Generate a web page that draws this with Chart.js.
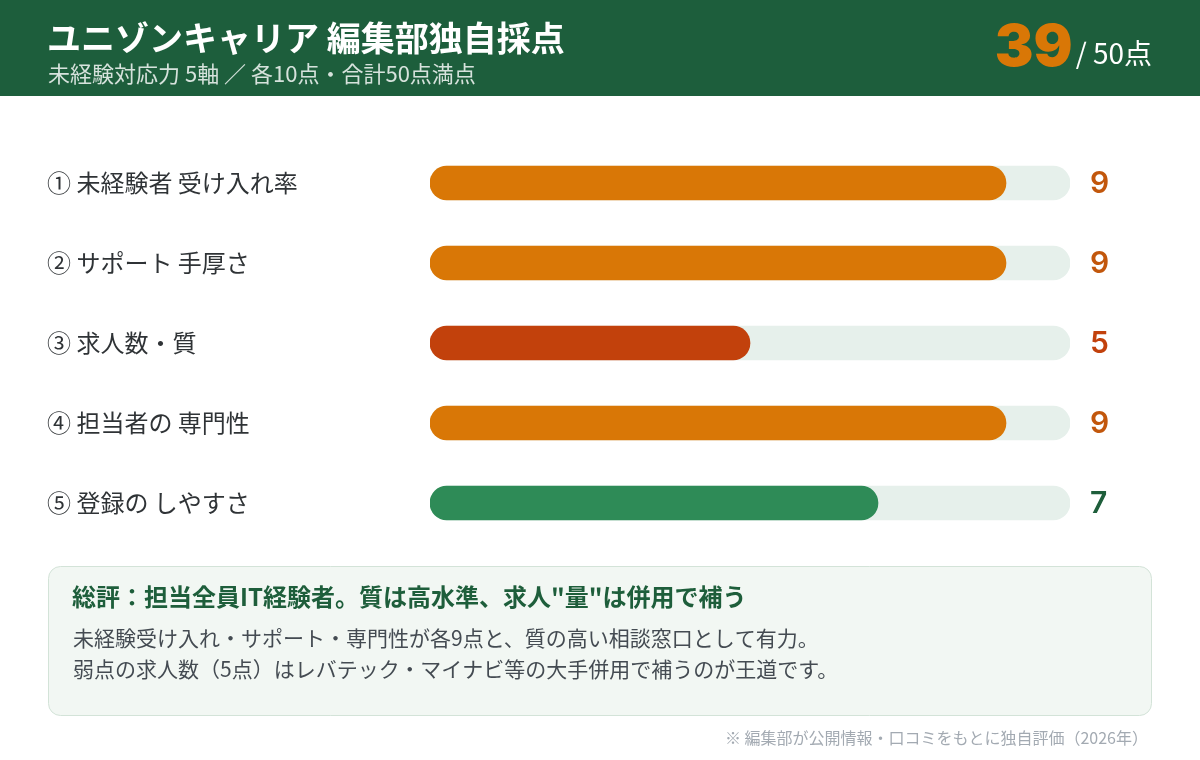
<!DOCTYPE html>
<html><head><meta charset="utf-8">
<script src="https://cdn.jsdelivr.net/npm/chart.js@4.4.1/dist/chart.umd.min.js"></script>
<style>html,body{margin:0;padding:0;background:#fff;}#wrap{width:1200px;height:760px;position:relative;}</style>
</head><body><div id="wrap"><canvas id="c" width="1200" height="760"></canvas></div>
<script>
const categories = ["① 未経験者 受け入れ率","② サポート 手厚さ","③ 求人数・質","④ 担当者の 専門性","⑤ 登録の しやすさ"];
const scores = [9, 9, 5, 9, 7];
const maxScores = [10, 10, 10, 10, 10];
const barColors = ["#d97706","#d97706","#c2410c","#d97706","#2e8b57"];
const valueColors = ["#c2570c","#c2570c","#c2410c","#c2570c","#1e5e3b"];
const title = "ユニゾンキャリア 編集部独自採点";
const subtitle = "未経験対応力 5軸 ／ 各10点・合計50点満点";
const total = "39";
const totalSuffix = "/ 50点";
const summaryTitle = "総評：担当全員IT経験者。質は高水準、求人\"量\"は併用で補う";
const summaryLines = ["未経験受け入れ・サポート・専門性が各9点と、質の高い相談窓口として有力。","弱点の求人数（5点）はレバテック・マイナビ等の大手併用で補うのが王道です。"];
const footnote = "※ 編集部が公開情報・口コミをもとに独自評価（2026年）";

const JP = '"Noto Sans CJK JP","Noto Sans",sans-serif';

function rr(ctx,x,y,w,h,r){ctx.beginPath();ctx.moveTo(x+r,y);ctx.lineTo(x+w-r,y);ctx.arcTo(x+w,y,x+w,y+r,r);ctx.lineTo(x+w,y+h-r);ctx.arcTo(x+w,y+h,x+w-r,y+h,r);ctx.lineTo(x+r,y+h);ctx.arcTo(x,y+h,x,y+h-r,r);ctx.lineTo(x,y+r);ctx.arcTo(x,y,x+r,y,r);ctx.closePath();}

const decor = {
  id:'decor',
  beforeDraw(chart){
    const ctx = chart.ctx;
    ctx.save();
    ctx.fillStyle = '#ffffff'; ctx.fillRect(0,0,1200,760);
    ctx.fillStyle = '#1d5e3c'; ctx.fillRect(0,0,1200,96);
    ctx.textBaseline = 'alphabetic'; ctx.textAlign = 'left';
    ctx.fillStyle = '#ffffff'; ctx.font = 'bold 34px '+JP;
    ctx.fillText(title, 47, 51);
    ctx.fillStyle = 'rgba(255,255,255,0.82)'; ctx.font = '22px '+JP;
    ctx.fillText(subtitle, 48, 82);
    ctx.textAlign = 'right';
    ctx.font = '28px '+JP; ctx.fillStyle = '#ffffff';
    const sw = ctx.measureText(totalSuffix).width;
    ctx.fillText(totalSuffix, 1152, 64);
    ctx.font = '900 58px Inter,"Noto Sans",sans-serif'; ctx.fillStyle = '#d97706';
    ctx.fillText(total, 1152 - sw - 3, 66);
    // summary box
    rr(ctx,48.5,566.5,1103,149,12);
    ctx.fillStyle = '#f2f7f3'; ctx.fill();
    ctx.strokeStyle = '#d3e3d8'; ctx.lineWidth = 1; ctx.stroke();
    ctx.textAlign = 'left'; ctx.textBaseline = 'middle';
    ctx.fillStyle = '#1e5e3b'; ctx.font = 'bold 24px '+JP;
    ctx.fillText(summaryTitle, 72, 597);
    ctx.fillStyle = '#444b52'; ctx.font = '21px '+JP;
    summaryLines.forEach((l,i)=>ctx.fillText(l, 73, 638 + i*31));
    ctx.textAlign = 'right'; ctx.fillStyle = '#a3aab2'; ctx.font = '16px '+JP;
    ctx.fillText(footnote, 1148, 738);
    ctx.restore();
  },
  afterDatasetsDraw(chart){
    const ctx = chart.ctx; const meta = chart.getDatasetMeta(0); const xs = chart.scales.x;
    ctx.save(); ctx.textAlign='left'; ctx.textBaseline='middle';
    ctx.font = '600 30px Inter,"Noto Sans",sans-serif';
    meta.data.forEach((bar,i)=>{
      ctx.fillStyle = valueColors[i];
      ctx.fillText(String(scores[i]), xs.getPixelForValue(10) + 20, bar.y + 1);
    });
    ctx.restore();
  }
};

new Chart(document.getElementById('c'), {
  type:'bar',
  data:{labels:categories, datasets:[
    {data:scores, backgroundColor:barColors, borderRadius:17, borderSkipped:false, barThickness:34, grouped:false},
    {data:maxScores, backgroundColor:'#e6f0eb', borderRadius:17, borderSkipped:false, barThickness:34, grouped:false}
  ]},
  options:{
    indexAxis:'y', responsive:false, animation:false, devicePixelRatio:1,
    layout:{padding:{left:47,right:130,top:143,bottom:217}},
    plugins:{legend:{display:false},tooltip:{enabled:false}},
    scales:{
      x:{display:false,min:0,max:10},
      y:{grid:{display:false},border:{display:false},
         afterFit(s){s.width=383;},
         ticks:{crossAlign:'far',color:'#2f3336',font:{size:24,family:'"Noto Sans CJK JP","Noto Sans",sans-serif'}}}
    }
  },
  plugins:[decor]
});
</script></body></html>
